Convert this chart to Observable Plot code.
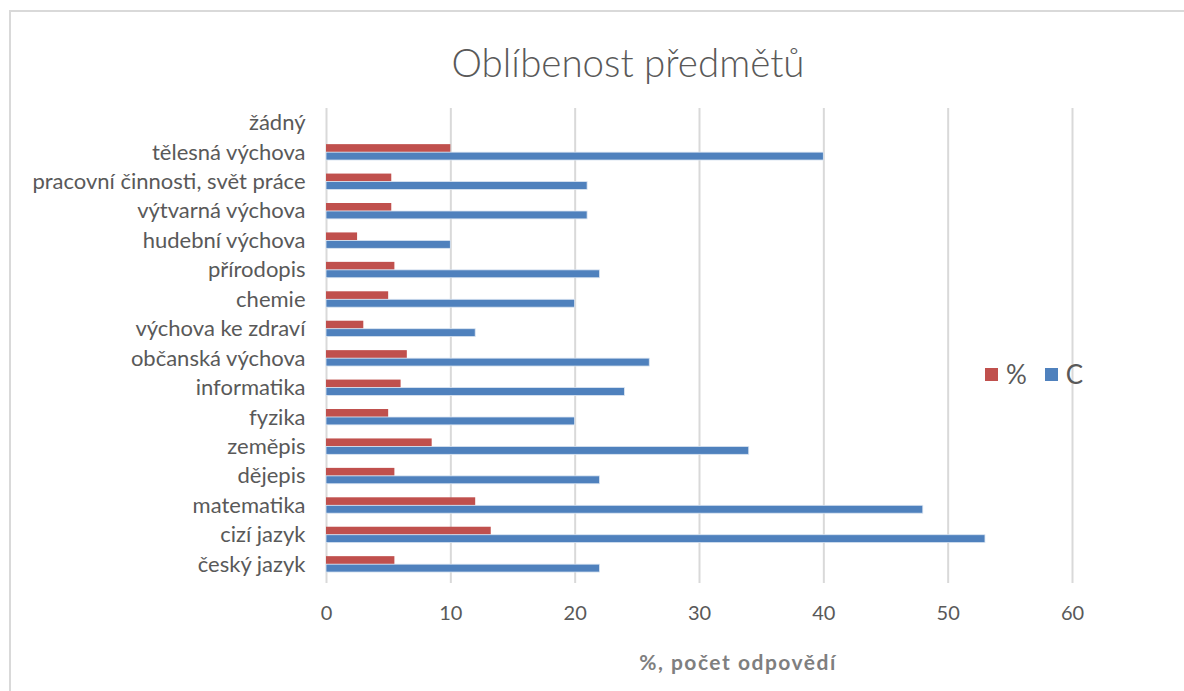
<!DOCTYPE html>
<html>
<head>
<meta charset="utf-8">
<script src="https://cdn.jsdelivr.net/npm/d3@7"></script>
<script src="https://cdn.jsdelivr.net/npm/@observablehq/plot@0.6"></script>
<style>
  html, body { margin: 0; padding: 0; background: #fff; }
  #wrap { position: relative; width: 1184px; height: 691px; overflow: hidden; font-family: Lato, "Open Sans", sans-serif; }
  #frame { position: absolute; left: 9px; top: 10px; width: 1200px; height: 720px; border: 2px solid #d9d9d9; box-sizing: border-box; }
  #title { position: absolute; left: 0; width: 1256px; top: 39px; text-align: center; font-size: 38.5px; font-weight: 300; color: #595959; }
  #xlabel { position: absolute; left: 0; width: 1476px; top: 649px; text-align: center; font-size: 21px; font-weight: 700; color: #7f7f7f; letter-spacing: 1.5px; }
  #legend { position: absolute; left: 985px; top: 358px; font-size: 26px; color: #595959; display: flex; align-items: center; }
  #legend .sw { display: inline-block; width: 13px; height: 13px; margin-right: 8px; }
  #legend .item { display: flex; align-items: center; margin-right: 18px; }
  #chart { position: absolute; left: 0; top: 0; }
</style>
</head>
<body>
<div id="wrap">
  <div id="frame"></div>
  <div id="chart"></div>
  <div id="title">Oblíbenost předmětů</div>
  <div id="xlabel">%, počet odpovědí</div>
  <div id="legend"></div>
</div>
<script>
const categories = ["český jazyk", "cizí jazyk", "matematika", "dějepis", "zeměpis", "fyzika", "informatika", "občanská výchova", "výchova ke zdraví", "chemie", "přírodopis", "hudební výchova", "výtvarná výchova", "pracovní činnosti, svět práce", "tělesná výchova", "žádný"];
const countC = [22, 53, 48, 22, 34, 20, 24, 26, 12, 20, 22, 10, 21, 21, 40, 0];
const percent = [5.5, 13.25, 12, 5.5, 8.5, 5, 6, 6.5, 3, 5, 5.5, 2.5, 5.25, 5.25, 10, 0];
const xTicks = [0, 10, 20, 30, 40, 50, 60];
const seriesNames = ["%", "C"];
const seriesColors = ["#C0504D", "#4F81BD"];

const rowsPct = categories.map((c, i) => ({category: c, value: percent[i], series: "%"}));
const rowsC = categories.map((c, i) => ({category: c, value: countC[i], series: "C"}));

const chart = Plot.plot({
  width: 1184,
  height: 691,
  marginLeft: 326,
  marginRight: 112,
  marginTop: 108,
  marginBottom: 108,
  style: {fontFamily: "Lato, 'Open Sans', sans-serif", background: "transparent"},
  x: {domain: [0, 60], ticks: xTicks, label: null},
  y: {domain: categories.slice().reverse(), paddingInner: 0.46, paddingOuter: 0.3, align: 0.38, round: false, label: null},
  color: {domain: seriesNames, range: seriesColors},
  marks: [
    Plot.ruleX(xTicks, {stroke: "#d9d9d9", strokeWidth: 2}),
    Plot.barX(rowsPct, {x: "value", y: "category", fill: d => "%", insetBottom: 8}),
    Plot.barX(rowsC, {x: "value", y: "category", fill: d => "C", insetTop: 8, stroke: "#dce6f2", strokeWidth: 0.8}),
    Plot.axisX({ticks: xTicks, tickSize: 0, tickPadding: 22, fontSize: 20, color: "#595959", label: null}),
    Plot.axisY({tickSize: 0, tickPadding: 21, fontSize: 22, color: "#595959", label: null, style: {letterSpacing: "2px"}})
  ]
});
document.getElementById("chart").appendChild(chart);

const legend = document.getElementById("legend");
seriesNames.forEach((n, i) => {
  const item = document.createElement("div");
  item.className = "item";
  const sw = document.createElement("span");
  sw.className = "sw";
  sw.style.background = seriesColors[i];
  const t = document.createElement("span");
  t.textContent = n;
  item.appendChild(sw);
  item.appendChild(t);
  legend.appendChild(item);
});
</script>
</body>
</html>
